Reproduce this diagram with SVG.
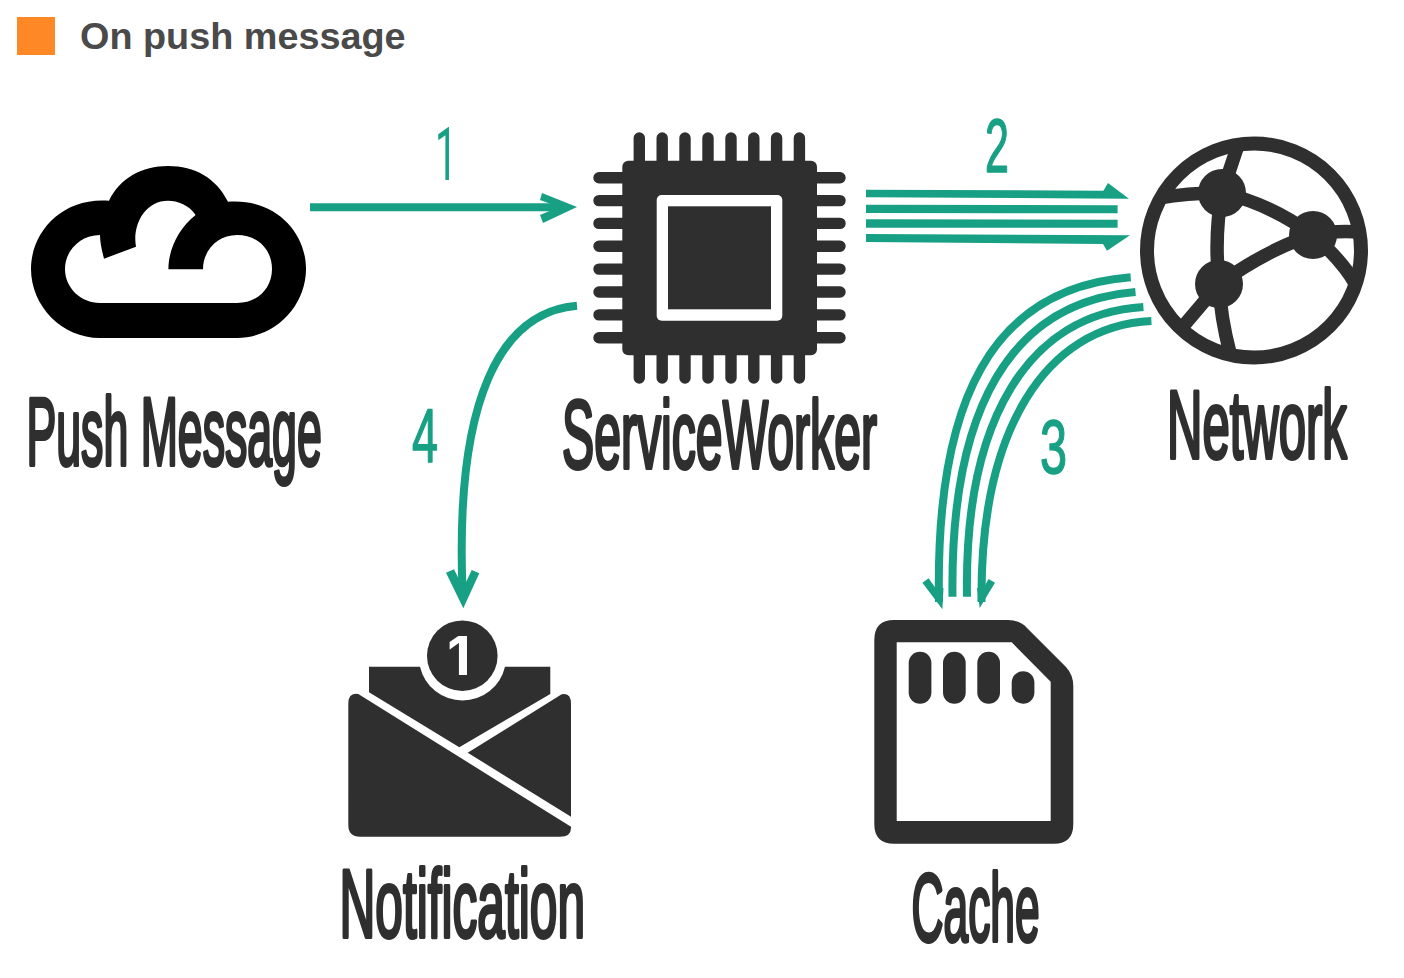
<svg xmlns="http://www.w3.org/2000/svg" width="1404" height="978" viewBox="0 0 1404 978">
<style>
.dark{fill:#2f2f2f}
.hand{font-family:"Liberation Sans",sans-serif;fill:#2f2f2f;stroke:#2f2f2f;stroke-width:4;stroke-linejoin:round;font-size:96px}
.num{font-family:"Liberation Sans",sans-serif;fill:#18a084;stroke:#18a084;stroke-width:1.5;stroke-linejoin:round;font-size:76px}
.pin{stroke:#2f2f2f;stroke-width:11.4;stroke-linecap:round;fill:none}
.net{stroke:#2f2f2f;stroke-width:13.5;fill:none}
.flow{stroke:#18a084;stroke-width:8;fill:none}
.head{fill:#18a084}
</style>
<rect width="1404" height="978" fill="#fff"/>
<g id="title">
<rect x="17" y="17" width="38" height="38" fill="#ff8826"/>
<text x="80" y="49" font-family="'Liberation Sans',Arial,sans-serif" font-weight="700" font-size="37.8" fill="#4a4a4a">On push message</text>
</g>
<g id="connectors">
<path class="flow" d="M310 207.3H562"/>
<polygon class="head" points="577,207 542,193 540,200 559,207 540,215 543,223"/>
<polygon class="head" points="866,189.7 1103.4,190.7 1108,183 1129,198.7 866,197.3"/>
<polygon class="head" points="866,204.7 1117.6,205.3 1117.6,213.3 866,213"/>
<polygon class="head" points="866,219.3 1117.6,219.7 1117.6,227.7 866,227.7"/>
<polygon class="head" points="866,234 1130,235.3 1107,250.7 1103,244 866,242"/>
<path class="flow" d="M1130.7 277.3C992 288 935 400 939 602"/>
<path class="flow" d="M1135.5 292C1010 302 950 410 952.5 596.7"/>
<path class="flow" d="M1143.4 307C1028 314 964 420 967 596.7"/>
<path class="flow" d="M1151.4 321C1045 326 980 430 981.5 602"/>
<polygon class="head" points="942.4,609.3 922.4,582.7 928.6,578.3 935.5,588 943.5,588"/>
<polygon class="head" points="979.7,608 995,582.7 988.6,579 983.5,588 977,588"/>
<path class="flow" d="M577 305.7C500 312 455 400 462.5 590"/>
<polygon class="head" points="463.3,608.3 446,572.7 454,569.3 463.3,588 471.7,570 479.3,573.3"/>
</g>
<g id="push-message">
<path fill="#000" fill-rule="evenodd" d="M109 200.7C120 178 142 166 168 166C195 166 216 178 228 201.7C275 198 306 232 306 269C306 306 275 338 237 338H100C62 338 31 306 31 269C31 232 62 197 109 200.7ZM203 269.3C203 250 218 235 237 235C258 235 272 250 272 269C272 288 258 303 237 303H100C81 303 65 288 65 269C65 250 81 235 100 235C100 243 102 251 104 258.7L136 246.7C132 225 145 200.7 168 200.7C178 200.7 189 205 195.6 215C178 229 168.4 250 168.4 269.3Z"/>
<text class="hand" transform="translate(26.5 465) scale(.465 1)">Push Message</text>
</g>
<g id="service-worker">
<path class="pin" d="M639.3 138V378M662.2 138V378M685 138V378M708 138V378M731 138V378M753.8 138V378M776.6 138V378M799.4 138V378M599 177.7H840M599 200.6H840M599 223.4H840M599 246.3H840M599 269.1H840M599 292H840M599 314.9H840M599 337.7H840"/>
<rect class="dark" x="622.3" y="160.7" width="194.7" height="194.6" rx="6"/>
<rect x="656.7" y="195" width="125.6" height="125.7" rx="5" fill="#fff"/>
<rect class="dark" x="668" y="206.3" width="103" height="103"/>
<text class="hand" transform="translate(562 468) scale(.502 1)">ServiceWorker</text>
</g>
<g id="network">
<circle cx="1254" cy="250.5" r="107" fill="none" stroke="#2f2f2f" stroke-width="14"/>
<path class="net" d="M1237 148L1222 193M1160 198C1180 194 1200 193 1222 193C1255 200 1285 215 1313 235M1222 193C1216 225 1216 255 1219 284C1250 262 1280 245 1313 235C1330 231 1345 231 1360 232M1313 235C1330 250 1345 265 1356 285M1219 284L1180 330M1219 284C1220 305 1224 330 1230 353"/>
<circle class="dark" cx="1222" cy="193" r="24"/>
<circle class="dark" cx="1313" cy="235" r="24"/>
<circle class="dark" cx="1219" cy="284" r="24"/>
<text class="hand" transform="translate(1167 458) scale(.511 1)">Network</text>
</g>
<g id="notification">
<path class="dark" d="M369 666.7H420A43.6 43.6 0 0 0 505 666.7H550.3V694L459.3 747.3L369 692.3Z"/>
<circle class="dark" cx="462.3" cy="655.7" r="35.3"/>
<text x="459" y="675" text-anchor="middle" font-family="Inter,'Liberation Sans',sans-serif" font-weight="700" font-size="54" fill="#fff">1</text>
<path class="dark" d="M358.3 694L571 826.7V828Q571 836.7 560 836.7H360Q348.3 836.7 348.3 825V704Q348.3 692 358.3 694Z"/>
<path class="dark" d="M561.7 694.3Q571 692 571 704V816.7L467.7 752.7Z"/>
<text class="hand" transform="translate(339.5 937) scale(.517 1)">Notification</text>
</g>
<g id="cache">
<path class="dark" fill-rule="evenodd" d="M894 620H1008Q1020 620 1027 628L1066 667Q1073.3 675 1073.3 686V824Q1073.3 843.7 1054 843.7H894Q874.3 843.7 874.3 824V640Q874.3 620 894 620ZM896.7 642.3V821H1050.7V681.7L1011.7 642.3Z"/>
<rect class="dark" x="908.7" y="651.7" width="22.7" height="52" rx="11.3"/>
<rect class="dark" x="943" y="651.7" width="22.7" height="52" rx="11.3"/>
<rect class="dark" x="977.3" y="651.7" width="22.7" height="52" rx="11.3"/>
<rect class="dark" x="1011.7" y="671.3" width="22.7" height="32.4" rx="11.3"/>
<text class="hand" transform="translate(911.5 941) scale(.462 1)">Cache</text>
</g>
<g id="step-labels">
<text transform="translate(435 180) scale(.53 1)" font-family="Roboto,'Liberation Sans',sans-serif" font-size="74" fill="#18a084">1</text>
<text class="num" transform="translate(985 172) scale(.566 1)">2</text>
<text class="num" transform="translate(1040 473) scale(.64 1)">3</text>
<text class="num" transform="translate(412 462) scale(.615 1)">4</text>
</g>
</svg>
